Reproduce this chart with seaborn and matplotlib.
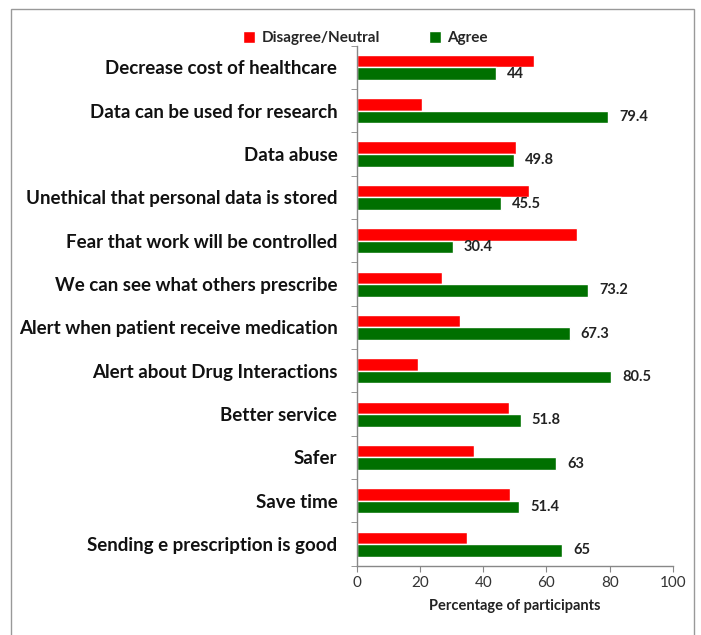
import pandas as pd
import numpy as np
import matplotlib
matplotlib.use("Agg")
import matplotlib.pyplot as plt
import seaborn as sns
from matplotlib.patches import Rectangle

# data (top to bottom)
items = [
    "Decrease cost of healthcare",
    "Data can be used for research",
    "Data abuse",
    "Unethical that personal data is stored",
    "Fear that work will be controlled",
    "We can see what others prescribe",
    "Alert when patient receive medication",
    "Alert about Drug Interactions",
    "Better service",
    "Safer",
    "Save time",
    "Sending e prescription is good",
]
disagree = [56, 20.6, 50.2, 54.5, 69.6, 26.8, 32.7, 19.5, 48.2, 37, 48.6, 35]
agree = [44, 79.4, 49.8, 45.5, 30.4, 73.2, 67.3, 80.5, 51.8, 63, 51.4, 65]

df = pd.concat([
    pd.DataFrame({"Item": items, "Pct": disagree, "Group": "Disagree/Neutral"}),
    pd.DataFrame({"Item": items, "Pct": agree, "Group": "Agree"}),
])

sns.set_style("white")
plt.rcParams["font.family"] = ["Lato", "DejaVu Sans"]

fig = plt.figure(figsize=(7.01, 6.35), dpi=100)
ax = fig.add_axes([0.509, 0.109, 0.451, 0.819])

sns.barplot(data=df, y="Item", x="Pct", hue="Group", order=items,
            hue_order=["Disagree/Neutral", "Agree"],
            palette={"Disagree/Neutral": "#FF0000", "Agree": "#007000"},
            orient="h", width=0.58, saturation=1, ax=ax, errorbar=None)

# value labels only on the Agree bars
ax.bar_label(ax.containers[1], labels=[f"{v:g}" for v in agree], padding=8,
             fontsize=10.5, fontweight="bold", color="#222222")

ax.set_xlim(0, 100)
ax.set_xticks(range(0, 101, 20))
ax.set_ylim(len(items) - 0.5, -0.5)
ax.set_xlabel("Percentage of participants", fontsize=10.5, fontweight="bold",
              color="#222222", labelpad=6)
ax.set_ylabel("")
ax.tick_params(axis="x", labelsize=11, colors="#333333", length=4,
               direction="out", bottom=True, color="#888888")
ax.tick_params(axis="y", labelsize=13.5, length=0, pad=14)
for t in ax.get_yticklabels():
    t.set_fontweight("bold")
    t.set_color("#111111")
ax.set_yticks(np.arange(-0.5, len(items), 1), minor=True)
ax.tick_params(axis="y", which="minor", length=4, left=True, color="#888888")

for s in ["top", "right"]:
    ax.spines[s].set_visible(False)
for s in ["left", "bottom"]:
    ax.spines[s].set_color("#888888")
    ax.spines[s].set_linewidth(1)

leg = ax.legend(loc="lower center", bbox_to_anchor=(0.027, 0.975), ncol=2,
                frameon=False, fontsize=11, handlelength=0.8,
                handleheight=0.8, columnspacing=3.2, handletextpad=0.4)
for t in leg.get_texts():
    t.set_fontweight("bold")

# outer frame of the chart area
fig.patches.append(Rectangle((11 / 701, -0.02), 683 / 701, 1 - 9 / 635 + 0.02,
                             transform=fig.transFigure, fill=False,
                             edgecolor="#999999", linewidth=1))

fig.savefig("out.png", dpi=100)
